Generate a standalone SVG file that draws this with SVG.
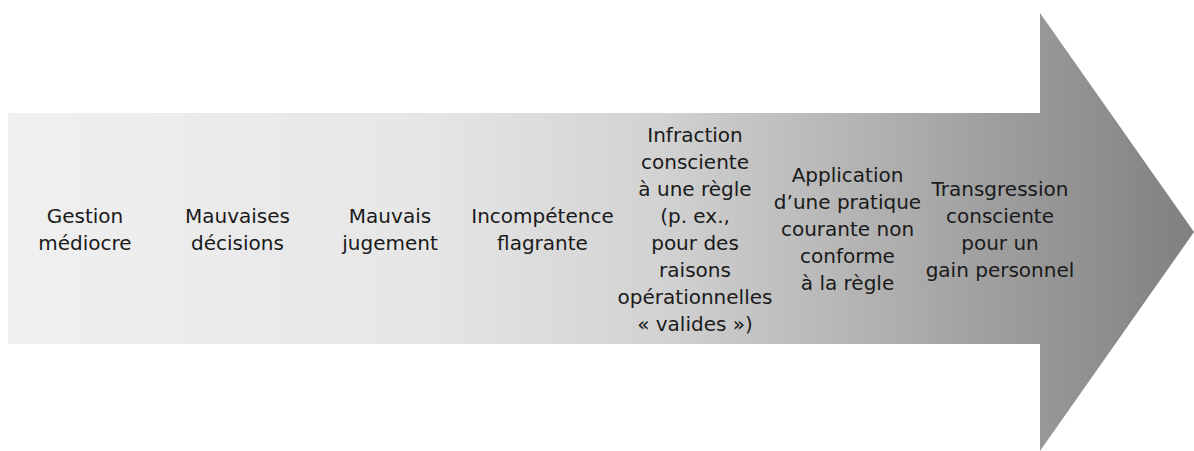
<svg xmlns="http://www.w3.org/2000/svg" width="1194" height="451" viewBox="0 0 1194 451">
<style>
text{font-family:"DejaVu Sans","Liberation Sans",sans-serif;font-size:20px;fill:#1a1a1a;text-anchor:middle}
</style>
<defs>
<linearGradient id="g" gradientUnits="userSpaceOnUse" x1="8" y1="0" x2="1194" y2="0">
<stop offset="0" stop-color="#f0f0f0"/>
<stop offset="0.35" stop-color="#e6e6e6"/>
<stop offset="0.55" stop-color="#d2d2d2"/>
<stop offset="1" stop-color="#808080"/>
</linearGradient>
</defs>
<g id="arrow">
<polygon points="8,113 1040,113 1040,13 1194,232 1040,451 1040,344 8,344" fill="url(#g)"/>
</g>
<g id="n1"><text x="85" y="222.5">Gestion</text><text x="85" y="249.5">médiocre</text></g>
<g id="n2"><text x="237.5" y="222.5">Mauvaises</text><text x="237.5" y="249.5">décisions</text></g>
<g id="n3"><text x="390" y="222.5">Mauvais</text><text x="390" y="249.5">jugement</text></g>
<g id="n4"><text x="542.5" y="222.5">Incompétence</text><text x="542.5" y="249.5">flagrante</text></g>
<g id="n5">
<text x="695" y="141.5">Infraction</text>
<text x="695" y="168.5">consciente</text>
<text x="695" y="195.5">à une règle</text>
<text x="695" y="222.5">(p. ex.,</text>
<text x="695" y="249.5">pour des</text>
<text x="695" y="276.5">raisons</text>
<text x="695" y="303.5">opérationnelles</text>
<text x="695" y="330.5">« valides »)</text>
</g>
<g id="n6">
<text x="847.5" y="182">Application</text>
<text x="847.5" y="209">d’une pratique</text>
<text x="847.5" y="236">courante non</text>
<text x="847.5" y="263">conforme</text>
<text x="847.5" y="290">à la règle</text>
</g>
<g id="n7">
<text x="1000" y="195.5">Transgression</text>
<text x="1000" y="222.5">consciente</text>
<text x="1000" y="249.5">pour un</text>
<text x="1000" y="276.5">gain personnel</text>
</g>
<g id="connectors"/>
</svg>
